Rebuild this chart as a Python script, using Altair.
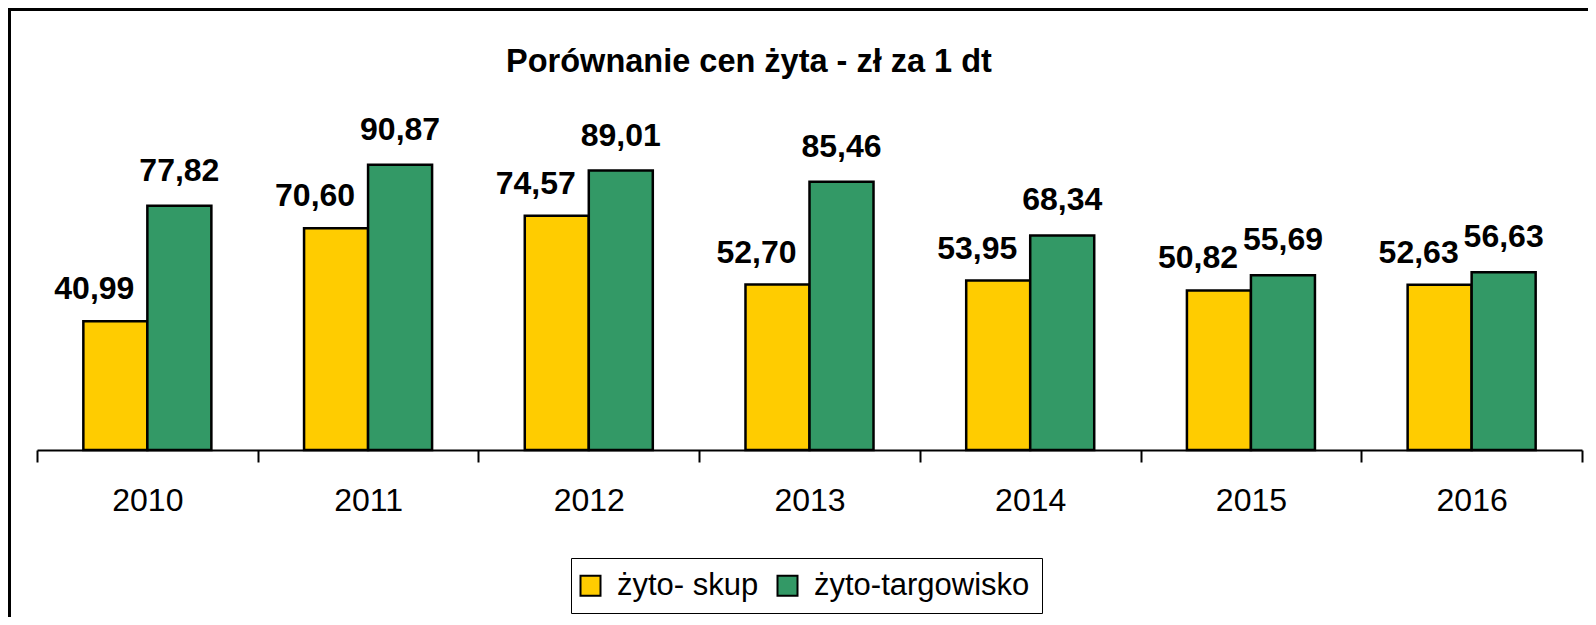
import altair as alt
import pandas as pd

years = ['2010', '2011', '2012', '2013', '2014', '2015', '2016']
skup = [40.99, 70.60, 74.57, 52.70, 53.95, 50.82, 52.63]
targowisko = [77.82, 90.87, 89.01, 85.46, 68.34, 55.69, 56.63]
series = ['żyto- skup', 'żyto-targowisko']
colors = ['#FFCC00', '#339966']
title_text = 'Porównanie cen żyta - zł za 1 dt'

rows = []
for i, yr in enumerate(years):
    rows.append({'rok': yr, 'seria': series[0], 'cena': skup[i]})
    rows.append({'rok': yr, 'seria': series[1], 'cena': targowisko[i]})
df = pd.DataFrame(rows)

W, H = 1545, 314
FONT = 'Liberation Sans'

base = alt.Chart(df).transform_calculate(
    label="replace(format(datum.cena, '.2f'), '.', ',')"
)

x = alt.X('rok:N', sort=years,
          scale=alt.Scale(paddingInner=0, paddingOuter=0),
          axis=alt.Axis(title=None, labelAngle=0, tickBand='extent', grid=False,
                        domainColor='black', domainWidth=2,
                        tickColor='black', tickWidth=2, tickSize=12,
                        labelFontSize=32, labelColor='black', labelFont=FONT,
                        labelBaseline='alphabetic', labelPadding=48))
xo = alt.XOffset('seria:N', scale=alt.Scale(domain=series, paddingInner=0, paddingOuter=0.724))
y = alt.Y('cena:Q', scale=alt.Scale(domain=[0, 100], nice=False, zero=True), axis=None)

bars = base.mark_bar(stroke='black', strokeWidth=2.5).encode(
    x=x, xOffset=xo, y=y,
    color=alt.Color('seria:N', scale=alt.Scale(domain=series, range=colors),
                    legend=alt.Legend(title=None, orient='none', legendX=534, legendY=422,
                                      direction='horizontal', symbolType='square',
                                      symbolSize=400, symbolStrokeColor='black',
                                      symbolStrokeWidth=2, symbolOffset=-8, labelFontSize=31,
                                      labelFont=FONT, labelColor='black', labelLimit=600,
                                      labelOffset=11, columnPadding=14, padding=12,
                                      strokeColor='black'))
)

lab_s = base.transform_filter(alt.datum.seria == series[0]).mark_text(
    font=FONT, fontWeight='bold', fontSize=32, dx=-21, dy=-22,
    baseline='alphabetic', align='center', color='black'
).encode(x=x, xOffset=xo, y=y, text='label:N')

lab_t = base.transform_filter(alt.datum.seria == series[1]).mark_text(
    font=FONT, fontWeight='bold', fontSize=32, dy=-25,
    baseline='alphabetic', align='center', color='black'
).encode(x=x, xOffset=xo, y=y, text='label:N')

frame = alt.Chart(pd.DataFrame({'a': [0]})).mark_rect(
    fill='transparent', stroke='black', strokeWidth=3
).encode(x=alt.value(-27.5), x2=alt.value(1700), y=alt.value(-126.5), y2=alt.value(700))

ttl = alt.Chart(pd.DataFrame({'t': [title_text]})).mark_text(
    font=FONT, fontSize=32.5, fontWeight='bold', align='center',
    baseline='alphabetic', color='black'
).encode(text='t:N', x=alt.value(749 - 37), y=alt.value(72 - 136))

chart = alt.layer(frame, bars, lab_s, lab_t, ttl).properties(
    width=W, height=H,
    autosize=alt.AutoSizeParams(type='none'),
    padding={'left': 29, 'top': 128, 'right': 6, 'bottom': 167},
    background='white'
).configure_view(stroke='transparent')

chart.save('out.html', embed_options={'renderer': 'svg', 'actions': False})
